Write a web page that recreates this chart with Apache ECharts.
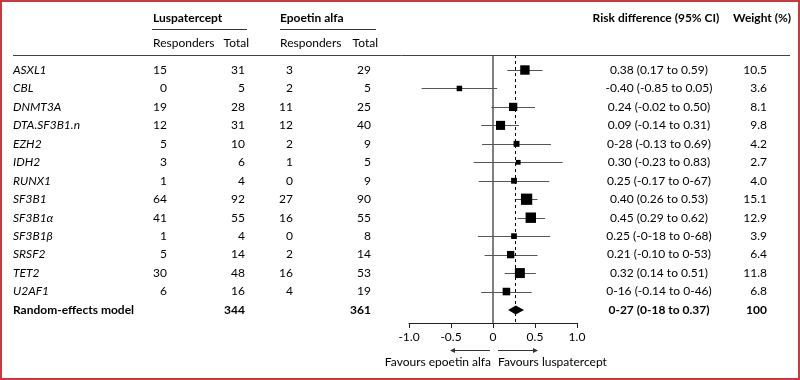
<!DOCTYPE html>
<html><head><meta charset="utf-8">
<script src="https://cdn.jsdelivr.net/npm/echarts@6/dist/echarts.min.js"></script>
<style>html,body{margin:0;padding:0;background:#fff}#c{width:800px;height:380px}</style>
</head><body><div id="c"></div>
<script>
// ---------- data ----------
const genes = ['ASXL1','CBL','DNMT3A','DTA.SF3B1.n','EZH2','IDH2','RUNX1','SF3B1','SF3B1\u03b1','SF3B1\u03b2','SRSF2','TET2','U2AF1'];
const lusResp  = [15, 0, 19, 12, 5, 3, 1, 64, 41, 1, 5, 30, 6];
const lusTotal = [31, 5, 28, 31, 10, 6, 4, 92, 55, 4, 14, 48, 16];
const epoResp  = [3, 2, 11, 12, 2, 1, 0, 27, 16, 0, 2, 16, 4];
const epoTotal = [29, 5, 25, 40, 9, 5, 9, 90, 55, 8, 14, 53, 19];
const rd  = [0.38, -0.40, 0.24, 0.09, 0.28, 0.30, 0.25, 0.40, 0.45, 0.25, 0.21, 0.32, 0.16];
const ciLo = [0.17, -0.85, -0.02, -0.14, -0.13, -0.23, -0.17, 0.26, 0.29, -0.18, -0.10, 0.14, -0.14];
const ciHi = [0.59, 0.05, 0.50, 0.31, 0.69, 0.83, 0.67, 0.53, 0.62, 0.68, 0.53, 0.51, 0.46];
const weights = [10.5, 3.6, 8.1, 9.8, 4.2, 2.7, 4.0, 15.1, 12.9, 3.9, 6.4, 11.8, 6.8];
const ciText = ['0.38 (0.17 to 0.59)','-0.40 (-0.85 to 0.05)','0.24 (-0.02 to 0.50)','0.09 (-0.14 to 0.31)',
  '0-28 (-0.13 to 0.69)','0.30 (-0.23 to 0.83)','0.25 (-0.17 to 0-67)','0.40 (0.26 to 0.53)',
  '0.45 (0.29 to 0.62)','0.25 (-0-18 to 0-68)','0.21 (-0.10 to 0-53)','0.32 (0.14 to 0.51)','0-16 (-0.14 to 0-46)'];
const weightText = ['10.5','3.6','8.1','9.8','4.2','2.7','4.0','15.1','12.9','3.9','6.4','11.8','6.8'];
const modelLabel = 'Random-effects model';
const modelLusTotal = 344, modelEpoTotal = 361;
const modelEst = 0.27, modelLo = 0.18, modelHi = 0.37;
const modelCiText = '0-27 (0-18 to 0.37)';
const modelWeightText = '100';
const xTickLabels = {'-1': '-1.0', '-0.5': '-0.5', '0': '0', '0.5': '0.5', '1': '1.0'};

// ---------- layout ----------
const FF = 'Lato, "Liberation Sans", sans-serif';
const FS = 12;
const TXT = '#000';
const MODEL = genes.length;

const chart = echarts.init(document.getElementById('c'), null, {renderer: 'canvas'});

function textCol(xPos, align, values, fontFn) {
  return {
    type: 'custom', xAxisIndex: 1, yAxisIndex: 1, silent: true, clip: false, z: 5,
    data: values.map((v, i) => [i]),
    renderItem: (params, api) => {
      const i = params.dataIndex;
      const p = api.coord([xPos, api.value(0)]);
      const v = values[i];
      if (v === null || v === undefined) return null;
      return {type: 'text', x: p[0], y: p[1], style: {
        text: String(v), textAlign: align, textVerticalAlign: 'middle',
        font: fontFn(i), fill: TXT }};
    }
  };
}
const normal = i => (i === MODEL ? 'bold ' : '') + FS + 'px ' + FF;
const italic = i => (i === MODEL ? 'bold ' : 'italic ') + FS + 'px ' + FF;

const labels = genes.concat([modelLabel]);
const lr = lusResp.concat([null]);
const lt = lusTotal.concat([modelLusTotal]);
const er = epoResp.concat([null]);
const et = epoTotal.concat([modelEpoTotal]);
const ct = ciText.concat([modelCiText]);
const wt = weightText.concat([modelWeightText]);

const yCommon = {type: 'value', inverse: true, min: -0.8125, max: 13.704, show: false};

const option = {
  animation: false,
  backgroundColor: '#fff',
  textStyle: {fontFamily: FF},
  grid: [
    {left: 409, width: 168, top: 55, height: 268},
    {left: 0, width: 800, top: 55, height: 268}
  ],
  xAxis: [
    {type: 'value', gridIndex: 0, min: -1, max: 1, interval: 0.5,
     axisLine: {show: true, onZero: false, lineStyle: {color: '#222', width: 1}},
     axisTick: {show: true, length: 5, lineStyle: {color: '#222'}},
     splitLine: {show: false},
     axisLabel: {color: TXT, fontSize: FS, fontFamily: FF, margin: 8,
       formatter: v => xTickLabels[String(v)] ?? String(v)}},
    {type: 'value', gridIndex: 1, min: 0, max: 800, show: false}
  ],
  yAxis: [Object.assign({gridIndex: 0}, yCommon), Object.assign({gridIndex: 1}, yCommon)],
  series: [
    {
      type: 'custom', xAxisIndex: 0, yAxisIndex: 0, silent: true, z: 4,
      data: rd.map((v, i) => [v, i, ciLo[i], ciHi[i], weights[i]]),
      renderItem: (params, api) => {
        const c = api.coord([api.value(0), api.value(1)]);
        const l = api.coord([api.value(2), api.value(1)]);
        const h = api.coord([api.value(3), api.value(1)]);
        const s = 2.9 * Math.sqrt(api.value(4));
        const y = Math.round(c[1]) + 0.5;
        return {type: 'group', children: [
          {type: 'line', shape: {x1: l[0], y1: y, x2: h[0], y2: y}, style: {stroke: '#555', lineWidth: 1}},
          {type: 'rect', shape: {x: c[0] - s / 2, y: c[1] - s / 2, width: s, height: s}, style: {fill: '#000'}}
        ]};
      },
      markLine: {
        silent: true, symbol: 'none', label: {show: false},
        data: [
          {xAxis: 0, lineStyle: {type: 'solid', color: '#555', width: 1.5}},
          {xAxis: modelEst, lineStyle: {type: [3, 3], color: '#000', width: 1}}
        ]
      }
    },
    {
      type: 'custom', xAxisIndex: 0, yAxisIndex: 0, silent: true, z: 4,
      data: [[modelEst, MODEL, modelLo, modelHi]],
      renderItem: (params, api) => {
        const c = api.coord([api.value(0), api.value(1)]);
        const l = api.coord([api.value(2), api.value(1)]);
        const h = api.coord([api.value(3), api.value(1)]);
        return {type: 'polygon', shape: {points: [[l[0], c[1]], [c[0], c[1] - 4.5], [h[0], c[1]], [c[0], c[1] + 4.5]]},
          style: {fill: '#000'}};
      }
    },
    textCol(13, 'left', labels, italic),
    textCol(167, 'right', lr, normal),
    textCol(245, 'right', lt, normal),
    textCol(293, 'right', er, normal),
    textCol(371, 'right', et, normal),
    textCol(659, 'center', ct, normal),
    textCol(767, 'right', wt, normal)
  ],
  graphic: [
    {type: 'rect', shape: {x: 1, y: 1, width: 798, height: 378}, style: {fill: 'none', stroke: '#c9393b', lineWidth: 2}, z: 100},
    {type: 'text', x: 153, y: 18, style: {text: 'Luspatercept', font: 'bold 12px ' + FF, fill: TXT, textVerticalAlign: 'middle'}},
    {type: 'text', x: 280, y: 18, style: {text: 'Epoetin alfa', font: 'bold 12px ' + FF, fill: TXT, textVerticalAlign: 'middle'}},
    {type: 'text', x: 656, y: 18, style: {text: 'Risk difference (95% CI)', font: 'bold 12px ' + FF, fill: TXT, textAlign: 'center', textVerticalAlign: 'middle'}},
    {type: 'text', x: 733, y: 18, style: {text: 'Weight (%)', font: 'bold 12px ' + FF, fill: TXT, textVerticalAlign: 'middle'}},
    {type: 'line', shape: {x1: 152, y1: 29.5, x2: 247, y2: 29.5}, style: {stroke: '#333', lineWidth: 1}},
    {type: 'line', shape: {x1: 280, y1: 29.5, x2: 376, y2: 29.5}, style: {stroke: '#333', lineWidth: 1}},
    {type: 'text', x: 153, y: 43, style: {text: 'Responders', font: '12px ' + FF, fill: TXT, textVerticalAlign: 'middle'}},
    {type: 'text', x: 249, y: 43, style: {text: 'Total', font: '12px ' + FF, fill: TXT, textAlign: 'right', textVerticalAlign: 'middle'}},
    {type: 'text', x: 280, y: 43, style: {text: 'Responders', font: '12px ' + FF, fill: TXT, textVerticalAlign: 'middle'}},
    {type: 'text', x: 378, y: 43, style: {text: 'Total', font: '12px ' + FF, fill: TXT, textAlign: 'right', textVerticalAlign: 'middle'}},
    {type: 'line', shape: {x1: 13, y1: 55.5, x2: 790, y2: 55.5}, style: {stroke: '#444', lineWidth: 1}, z: 10},
    {type: 'line', shape: {x1: 490, y1: 350.5, x2: 453, y2: 350.5}, style: {stroke: '#333', lineWidth: 1}},
    {type: 'polygon', shape: {points: [[450, 350.5], [455, 348], [455, 353]]}, style: {fill: '#333'}},
    {type: 'line', shape: {x1: 498, y1: 350.5, x2: 535, y2: 350.5}, style: {stroke: '#333', lineWidth: 1}},
    {type: 'polygon', shape: {points: [[538, 350.5], [533, 348], [533, 353]]}, style: {fill: '#333'}},
    {type: 'text', x: 491, y: 362, style: {text: 'Favours epoetin alfa', font: '12px ' + FF, fill: TXT, textAlign: 'right', textVerticalAlign: 'middle'}},
    {type: 'text', x: 498, y: 362, style: {text: 'Favours luspatercept', font: '12px ' + FF, fill: TXT, textAlign: 'left', textVerticalAlign: 'middle'}}
  ]
};
chart.setOption(option);
</script>
</body></html>
